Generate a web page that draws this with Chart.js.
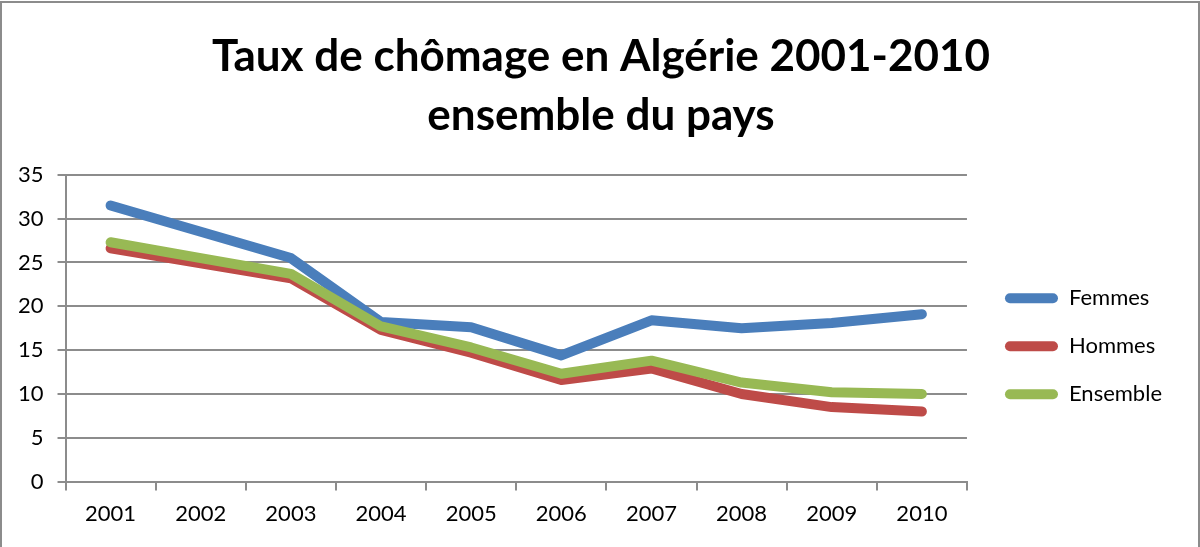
<!DOCTYPE html>
<html>
<head>
<meta charset="utf-8">
<script src="https://cdn.jsdelivr.net/npm/chart.js@4"></script>
<style>
  html, body { margin: 0; padding: 0; background: #fff; }
  #box {
    position: absolute; left: 0; top: 1px;
    width: 1196px; height: 548px;
    border: 2px solid #8c8c8c;
    background: #fff;
  }
  #wrap { position: absolute; left: 0; top: 0; width: 1196px; height: 544px; }
</style>
</head>
<body>
<div id="box"><div id="wrap"><canvas id="chart"></canvas></div></div>
<script>
// data
const years = ["2001", "2002", "2003", "2004", "2005", "2006", "2007", "2008", "2009", "2010"];
const femmes = [31.5, 28.5, 25.5, 18.2, 17.6, 14.4, 18.4, 17.5, 18.1, 19.1];
const hommes = [26.6, 24.9, 23.2, 17.3, 14.7, 11.6, 12.9, 10.0, 8.5, 8.0];
const ensemble = [27.3, 25.5, 23.7, 17.7, 15.3, 12.3, 13.8, 11.3, 10.2, 10.0];
const titleLines = ["Taux de chômage en Algérie 2001-2010", "ensemble du pays"];

const gridColor = "#8c8c8c";
const fontFamily = "Lato, 'Open Sans', sans-serif";

function lineSet(label, values, color, order) {
    return {
        label: label,
        data: values,
        borderColor: color,
        backgroundColor: color,
        borderWidth: 10,
        borderCapStyle: "round",
        borderJoinStyle: "round",
        pointRadius: 0,
        pointHoverRadius: 0,
        tension: 0,
        fill: false,
        order: order
    };
}

// legend swatches: plain filled bars, no outline
function legendLabels(chart) {
    let items = Chart.defaults.plugins.legend.labels.generateLabels(chart);
    items.forEach(function (item) {
        item.lineWidth = 0;
        item.strokeStyle = item.fillStyle;
    });
    return items;
}

// give the legend some blank room on its right side
const legendRoom = {
    id: "legendRoom",
    afterInit: function (chart) {
        let legend = chart.legend;
        if (!legend) {
            return;
        }
        let fit = legend.fit;
        legend.fit = function () {
            fit.call(this);
            this.width += 26;
        };
    }
};

let chart = new Chart("chart", {
    type: "line",
    data: {
        labels: years,
        datasets: [
            lineSet("Femmes", femmes, "#4a7ebb", 2),
            lineSet("Hommes", hommes, "#be4b48", 1),
            lineSet("Ensemble", ensemble, "#98b954", 0)
        ]
    },
    plugins: [legendRoom],
    options: {
        responsive: true,
        maintainAspectRatio: false,
        animation: false,
        layout: {
            padding: { left: 2, right: 0, top: 24, bottom: 10 }
        },
        plugins: {
            title: {
                display: true,
                text: titleLines,
                color: "#000",
                font: { family: fontFamily, size: 44, weight: "bold", lineHeight: 1.35 },
                padding: { top: 0, bottom: 29 }
            },
            legend: {
                position: "right",
                align: "center",
                title: {
                    display: true,
                    text: "",
                    font: { size: 12, lineHeight: 1.2 },
                    padding: { top: 114, bottom: 0 }
                },
                labels: {
                    color: "#000",
                    font: { family: fontFamily, size: 22 },
                    boxWidth: 53,
                    boxHeight: 10,
                    padding: 26,
                    useBorderRadius: true,
                    borderRadius: 5,
                    generateLabels: legendLabels,
                    sort: function (a, b) { return a.datasetIndex - b.datasetIndex; }
                }
            },
            tooltip: { enabled: false }
        },
        scales: {
            x: {
                offset: true,
                grid: {
                    offset: true,
                    drawOnChartArea: false,
                    color: gridColor,
                    lineWidth: 2,
                    tickLength: 9
                },
                border: { color: gridColor, width: 2 },
                ticks: {
                    color: "#000",
                    font: { family: fontFamily, size: 22 },
                    padding: 10,
                    maxRotation: 0
                }
            },
            y: {
                min: 0,
                max: 35,
                ticks: {
                    stepSize: 5,
                    color: "#000",
                    font: { family: fontFamily, size: 22 },
                    padding: 14
                },
                grid: {
                    color: gridColor,
                    lineWidth: 2,
                    tickLength: 8
                },
                border: { color: gridColor, width: 2 }
            },
            // empty strip between plot and legend
            gap: {
                position: "right",
                grid: { display: false },
                border: { display: false },
                ticks: { display: false },
                afterFit: function (scale) { scale.width = 12; }
            }
        }
    }
});
</script>
</body>
</html>
